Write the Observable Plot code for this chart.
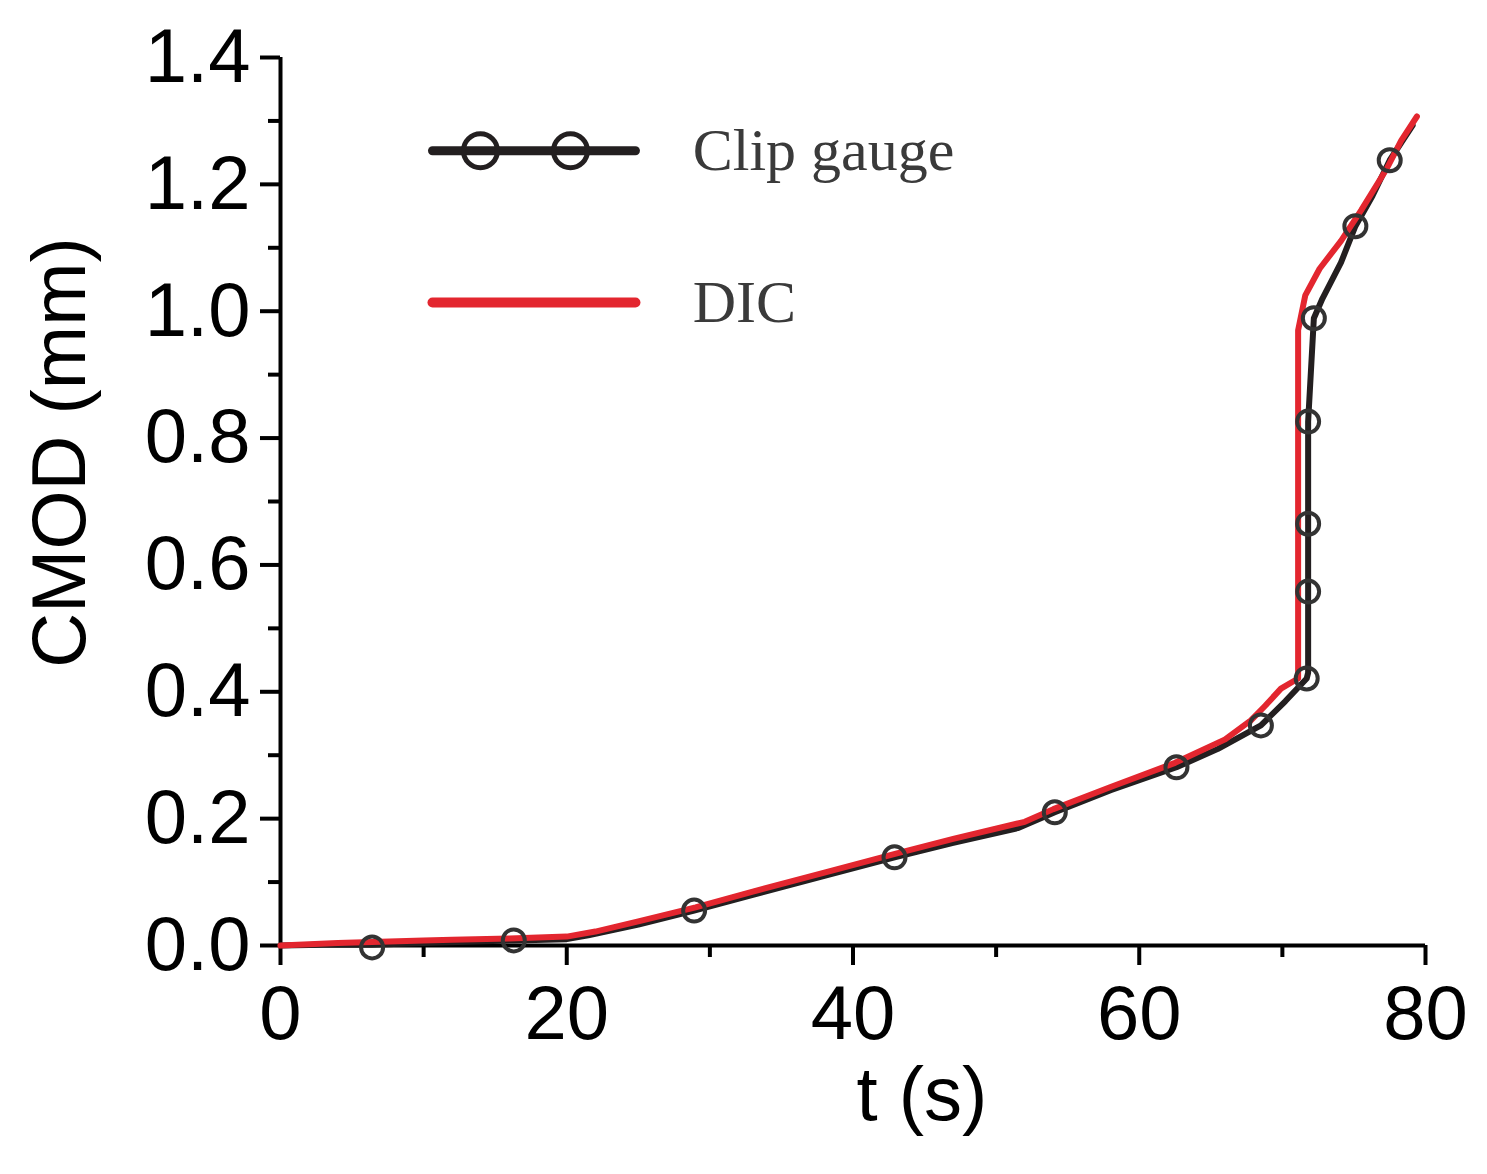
<!DOCTYPE html>
<html><head><meta charset="utf-8">
<script src="https://cdn.jsdelivr.net/npm/d3@7"></script>
<script src="https://cdn.jsdelivr.net/npm/@observablehq/plot@0.6"></script>
<style>body{margin:0;background:#fff}</style>
</head><body><div id="chart"></div>
<script>
// Clip gauge curve (t in s, CMOD in mm)
const clipT = [0, 3, 6.4, 10, 16.3, 20, 21.5, 25, 28.9, 33, 38, 42.9, 47, 51.5, 54.1, 58, 62.6, 65.5, 68.5, 70.2, 71.7, 71.8, 71.8, 71.8, 71.8, 72.2, 72.8, 74.1, 75.1, 76.3, 77.5, 79.1];
const clipV = [0, 0.001, 0.001, 0.004, 0.008, 0.01, 0.016, 0.033, 0.055, 0.08, 0.11, 0.139, 0.162, 0.185, 0.21, 0.245, 0.281, 0.31, 0.347, 0.385, 0.421, 0.43, 0.558, 0.665, 0.826, 0.989, 1.02, 1.077, 1.134, 1.182, 1.238, 1.293];
// Clip gauge markers
const markT = [6.4, 16.3, 28.9, 42.9, 54.1, 62.6, 68.5, 71.7, 71.8, 71.8, 71.8, 72.2, 75.1, 77.5];
const markV = [-0.003, 0.008, 0.055, 0.139, 0.21, 0.281, 0.347, 0.421, 0.558, 0.665, 0.826, 0.989, 1.134, 1.238];
// DIC curve
const dicT = [0, 4, 10, 12, 16, 20, 22, 25, 29, 33, 38, 43, 47, 52, 54, 58, 62.5, 66, 67.8, 68.8, 69.9, 71.1, 71.1, 71.6, 72.6, 74.1, 75.5, 77.3, 78.3, 79.4];
const dicV = [0, 0.004, 0.008, 0.009, 0.011, 0.014, 0.022, 0.038, 0.06, 0.085, 0.115, 0.145, 0.168, 0.195, 0.215, 0.25, 0.288, 0.325, 0.355, 0.378, 0.405, 0.421, 0.97, 1.025, 1.067, 1.111, 1.159, 1.225, 1.269, 1.307];

const xMajor = [0, 20, 40, 60, 80];
const xMinor = [10, 30, 50, 70];
const yMajor = [0, 0.2, 0.4, 0.6, 0.8, 1.0, 1.2, 1.4];
const yMinor = [0.1, 0.3, 0.5, 0.7, 0.9, 1.1, 1.3];
const seriesNames = ["Clip gauge", "DIC"];
const xLabel = "t (s)";
const yLabel = "CMOD (mm)";

// legend placement (data units)
const legX = [10.62, 24.8];
const legMarkX = [13.97, 20.26];
const legY = [1.253, 1.0137];
const legTextX = 28.8;

const BLACK = "#231f20", RED = "#e3262f", MARK = "#333333";

const clip = clipT.map((t, i) => ({t, v: clipV[i]}));
const marks = markT.map((t, i) => ({t, v: markV[i]}));
const dic = dicT.map((t, i) => ({t, v: dicV[i]}));

const chart = Plot.plot({
  width: 1487, height: 1174,
  marginLeft: 280, marginRight: 62, marginTop: 57, marginBottom: 229,
  x: {domain: [0, 80]},
  y: {domain: [0, 1.4]},
  style: {fontFamily: "'Liberation Sans', Arial, sans-serif", background: "#fff", color: "#000"},
  marks: [
    Plot.axisX(xMinor, {tickSize: 12, strokeWidth: 4, tickFormat: () => "", label: null}),
    Plot.axisX(xMajor, {tickSize: 20, strokeWidth: 4, tickPadding: 20, fontSize: 76, tickFormat: d => String(d), label: null}),
    Plot.axisY(yMinor, {tickSize: 12, strokeWidth: 4, tickFormat: () => "", label: null}),
    Plot.axisY(yMajor, {tickSize: 20, strokeWidth: 4, tickPadding: 10, fontSize: 76, tickFormat: d3.format(".1f"), label: null}),
    Plot.ruleY([0], {strokeWidth: 4, stroke: "#000"}),
    Plot.ruleX([0], {strokeWidth: 4, stroke: "#000"}),
    Plot.line(clip, {x: "t", y: "v", stroke: BLACK, strokeWidth: 6}),
    Plot.line(dic, {x: "t", y: "v", stroke: RED, strokeWidth: 6}),
    Plot.dot(marks, {x: "t", y: "v", r: 11, stroke: MARK, strokeWidth: 4, fill: "none"}),
    // legend
    Plot.line(legX, {x: d => d, y: () => legY[0], stroke: BLACK, strokeWidth: 9}),
    Plot.dot(legMarkX, {x: d => d, y: () => legY[0], r: 17, stroke: BLACK, strokeWidth: 5, fill: "none"}),
    Plot.line(legX, {x: d => d, y: () => legY[1], stroke: RED, strokeWidth: 10}),
    Plot.text(seriesNames, {x: () => legTextX, y: (d, i) => legY[i], text: d => d, textAnchor: "start", lineAnchor: "middle", fontSize: 60, fontFamily: "'Liberation Serif', 'Times New Roman', serif", fill: "#3a3a3a"}),
    // axis titles
    Plot.text([xLabel], {frameAnchor: "bottom", text: d => d, textAnchor: "middle", lineAnchor: "middle", dx: 69, dy: 150, fontSize: 76, fill: "#000"}),
    Plot.text([yLabel], {frameAnchor: "left", text: d => d, rotate: -90, textAnchor: "middle", lineAnchor: "middle", dx: -220, dy: -49, fontSize: 76, fill: "#000"})
  ]
});
document.getElementById("chart").appendChild(chart);
</script>
</body></html>
